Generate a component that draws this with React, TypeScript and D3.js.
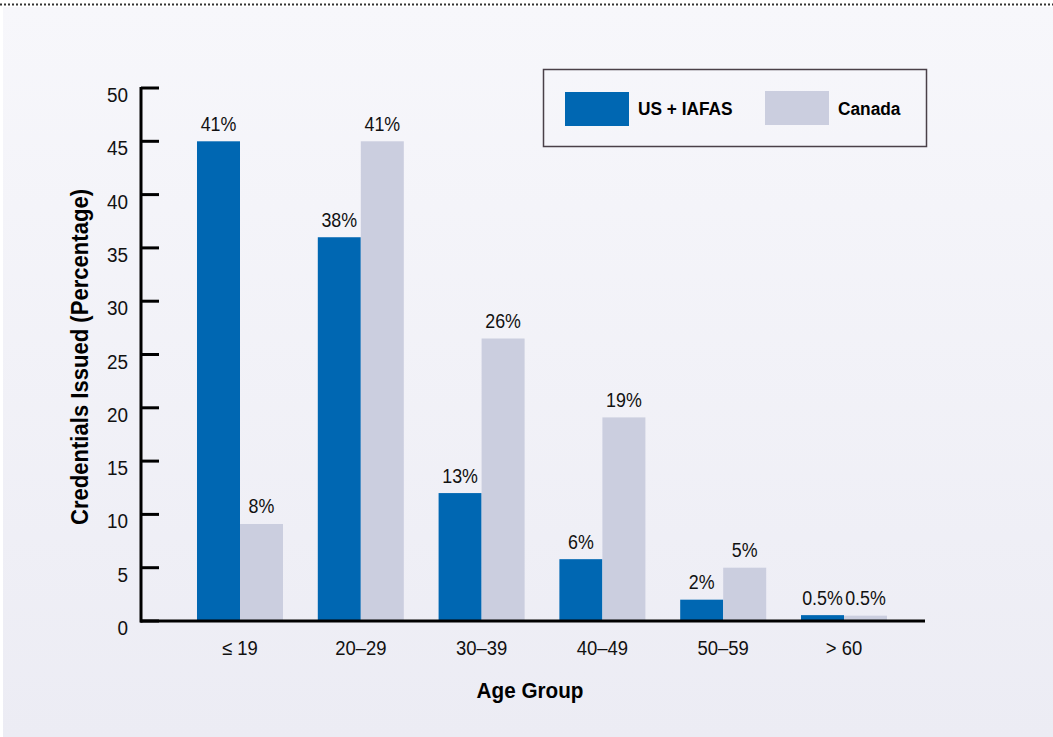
import React from "react";
import * as d3 from "d3";

const categories = ["≤ 19", "20–29", "30–39", "40–49", "50–59", "> 60"];
const seriesNames = ["US + IAFAS", "Canada"];
const usValues = [45, 36, 12, 5.8, 2, 0.55];
const canadaValues = [9.1, 45, 26.5, 19.1, 5, 0.5];
const usLabels = ["41%", "38%", "13%", "6%", "2%", "0.5%"];
const canadaLabels = ["8%", "41%", "26%", "19%", "5%", "0.5%"];
const yTicks = [0, 5, 10, 15, 20, 25, 30, 35, 40, 45, 50];
const colors = ["#0067b2", "#cbcedf"];

const W = 1053;
const H = 737;
const FONT = "'Liberation Sans', Arial, sans-serif";

type NProps = {
  x: number;
  y: number;
  sx?: number;
  size: number;
  anchor?: "start" | "middle" | "end";
  bold?: boolean;
  rotate?: number;
  children: React.ReactNode;
};

function NText({ x, y, sx = 0.92, size, anchor = "start", bold = false, rotate = 0, children }: NProps) {
  return (
    <text
      transform={`translate(${x},${y}) rotate(${rotate}) scale(${sx},1)`}
      textAnchor={anchor}
      fontSize={size}
      fontWeight={bold ? "bold" : "normal"}
      fill={bold ? "#000" : "#111"}
    >
      {children}
    </text>
  );
}

export default function App() {
  const y = d3.scaleLinear().domain([0, 50]).range([621, 88]);
  const x0 = d3.scaleBand().domain(categories).range([182.5, 901.5]).paddingInner(0.288).paddingOuter(0.12);
  const x1 = d3.scaleBand().domain(seriesNames).range([0, x0.bandwidth()]);
  const series = [usValues, canadaValues];
  const labels = [usLabels, canadaLabels];

  return (
    <svg width={W} height={H} style={{ position: "absolute", left: 0, top: 0 }} fontFamily={FONT}>
      <defs>
        <linearGradient id="bg" x1="0" y1="0" x2="0" y2="1">
          <stop offset="0" stopColor="#f7f7fb" />
          <stop offset="1" stopColor="#ececf4" />
        </linearGradient>
      </defs>
      <rect x={0} y={0} width={W} height={H} fill="#ffffff" />
      <rect x={3} y={7} width={W - 3} height={H - 7} fill="url(#bg)" />
      <line x1={0} x2={W} y1={4.5} y2={4.5} stroke="#333" strokeWidth={2} strokeDasharray="2,2" />

      {/* bars */}
      {categories.map((c, i) => (
        <g key={c}>
          {series.map((vals, s) => {
            const bx = (x0(c) as number) + (x1(seriesNames[s]) as number);
            const bw = x1.bandwidth();
            return (
              <g key={s}>
                <rect x={bx} y={y(vals[i])} width={bw} height={y(0) - y(vals[i])} fill={colors[s]} />
                <NText x={bx + bw / 2} y={y(vals[i]) - 10.5} size={20.5} sx={0.87} anchor="middle">
                  {labels[s][i]}
                </NText>
              </g>
            );
          })}
          <NText x={(x0(c) as number) + x0.bandwidth() / 2} y={655} size={20.5} sx={0.9} anchor="middle">
            {c}
          </NText>
        </g>
      ))}

      {/* y axis */}
      <line x1={141} x2={141} y1={y(50) - 1} y2={y(0) + 1.5} stroke="#000" strokeWidth={3} />
      {yTicks.map((t) => (
        <g key={t}>
          <line x1={141} x2={159} y1={y(t)} y2={y(t)} stroke="#000" strokeWidth={3} />
          <NText x={128} y={y(t) + 14} size={19.5} sx={0.97} anchor="end">
            {t}
          </NText>
        </g>
      ))}
      <line x1={140} x2={925} y1={y(0)} y2={y(0)} stroke="#000" strokeWidth={3} />

      <NText x={88} y={357} size={24} sx={0.92} anchor="middle" bold rotate={-90}>
        Credentials Issued (Percentage)
      </NText>
      <NText x={530} y={698} size={22} sx={0.94} anchor="middle" bold>
        Age Group
      </NText>

      {/* legend */}
      <rect x={543.5} y={69.5} width={383} height={77} fill="none" stroke="#4a4048" strokeWidth={1.5} />
      <rect x={565} y={92} width={64} height={34} fill={colors[0]} />
      <NText x={638} y={115} size={19} sx={0.91} bold>
        {seriesNames[0]}
      </NText>
      <rect x={765} y={91} width={64} height={34} fill={colors[1]} />
      <NText x={838} y={115} size={19} sx={0.91} bold>
        {seriesNames[1]}
      </NText>
    </svg>
  );
}
